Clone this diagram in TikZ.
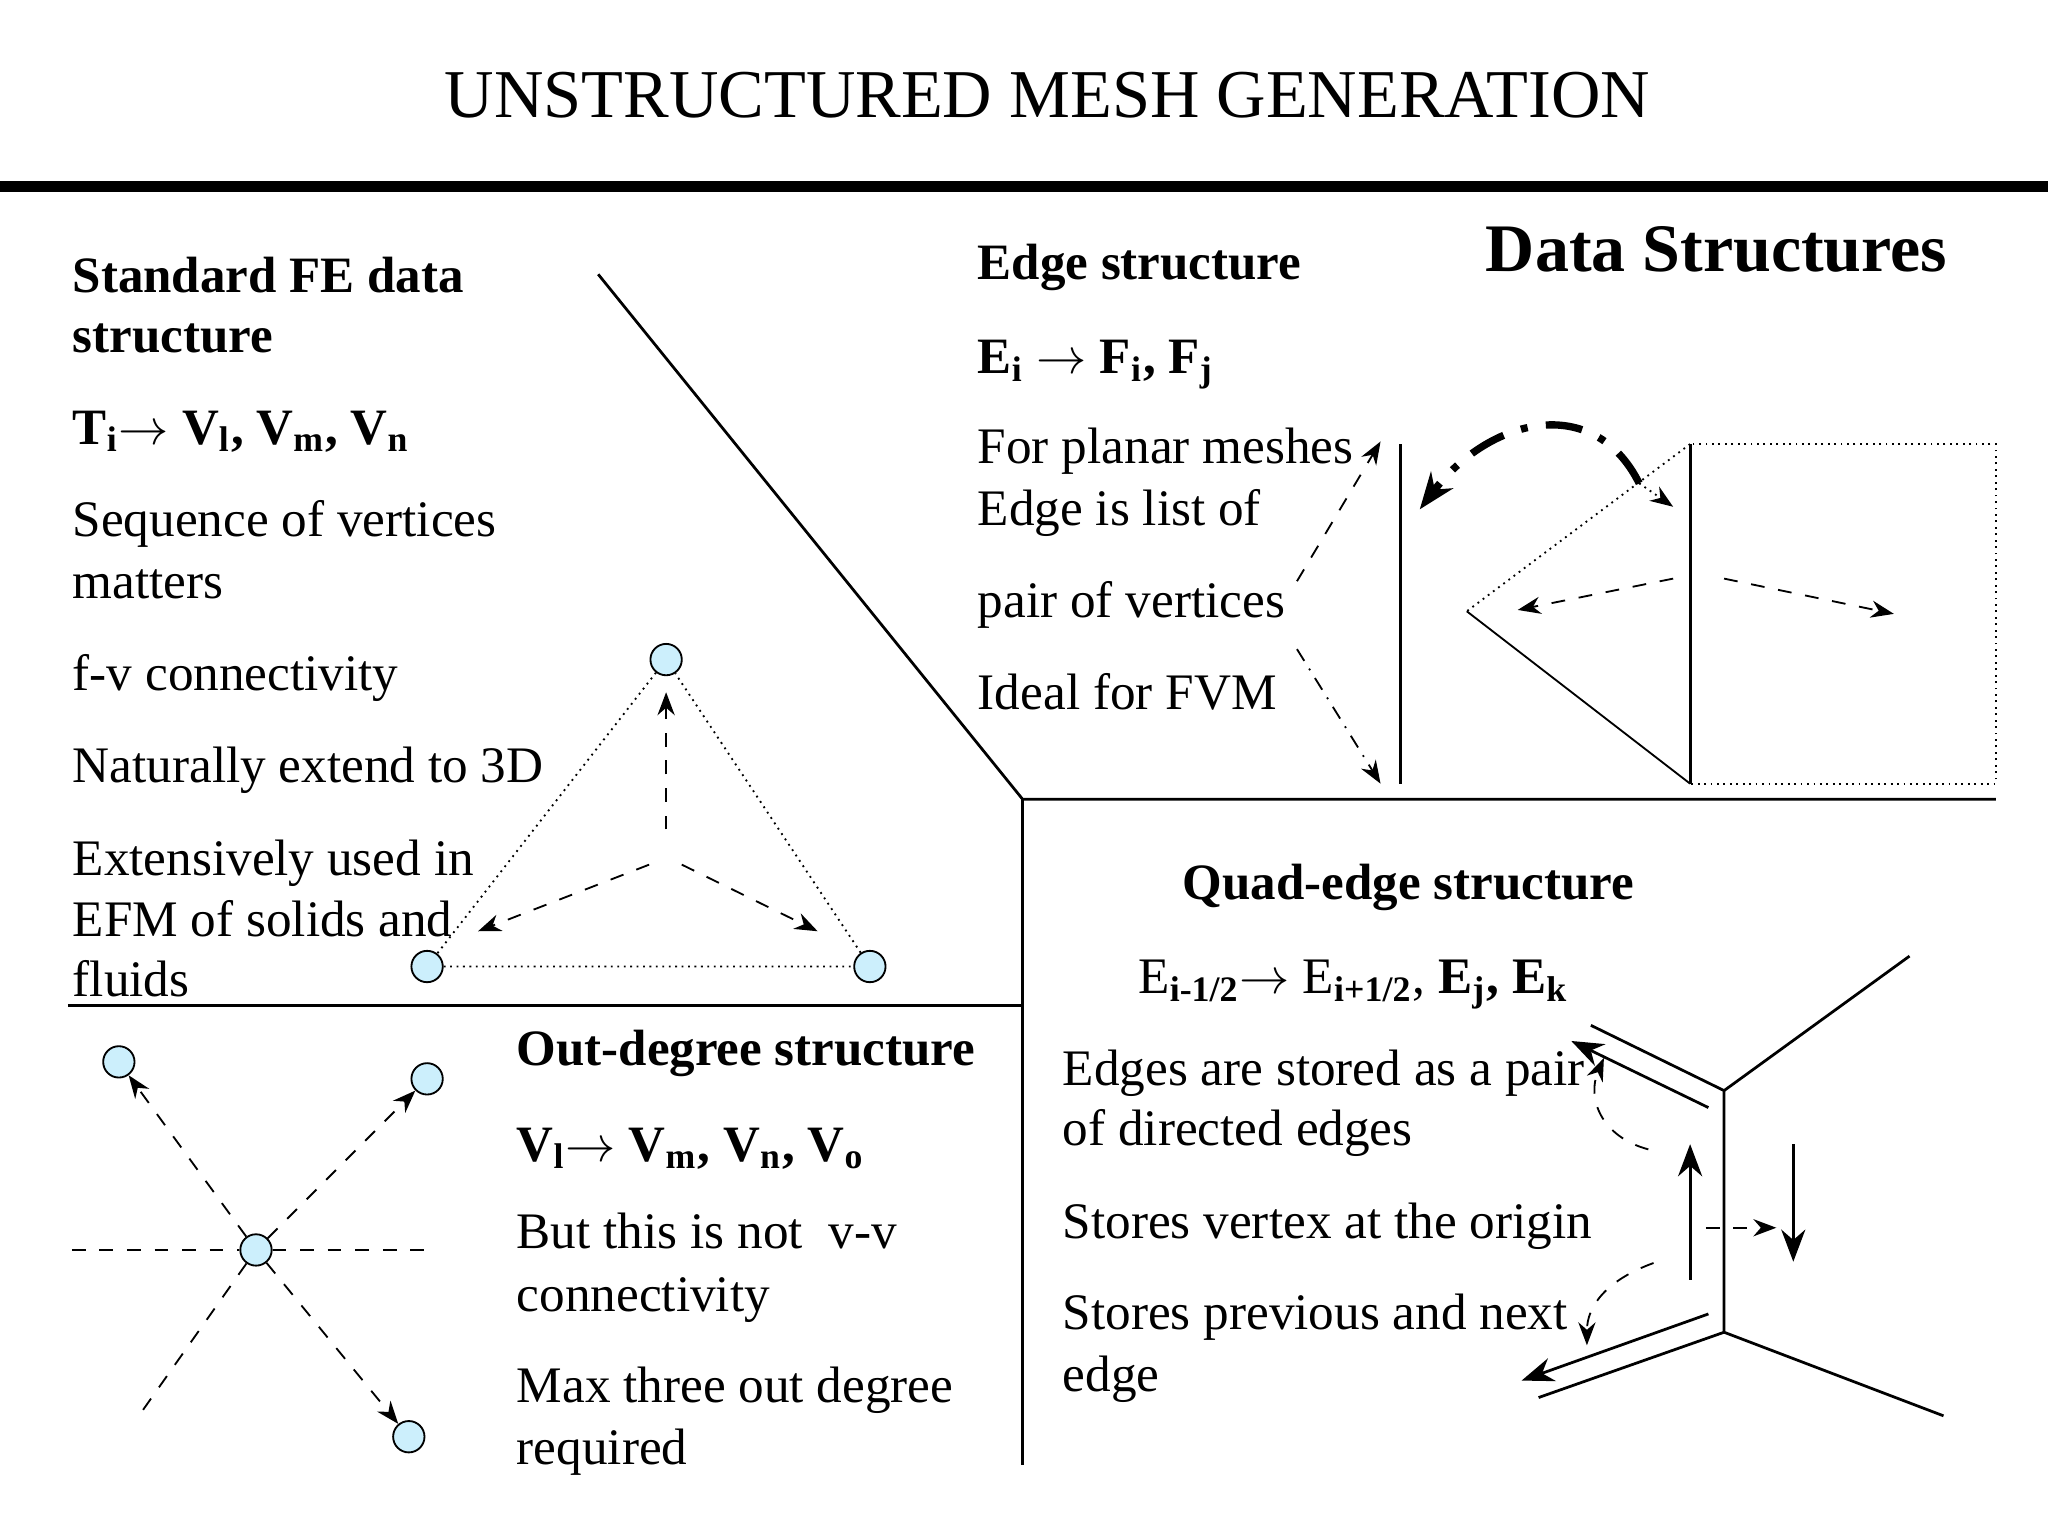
\documentclass[tikz,border=0pt]{standalone}
\usepackage{fontspec}
\setmainfont{Liberation Serif}
\usetikzlibrary{arrows.meta}
\begin{document}
\begin{tikzpicture}[x=0.01cm,y=-0.01cm,
 txt/.style={anchor=base west,inner sep=0,font=\fontsize{11.15}{13}\selectfont},
 btxt/.style={txt,font=\fontsize{11.1}{13}\selectfont\bfseries},
 vtx/.style={circle,draw,fill=cyan!20!white,minimum size=0.24cm,inner sep=0},
 da/.style={dashed,-{Stealth[length=5pt]}},
 ln/.style={line width=0.6pt}]
\useasboundingbox (0,0) rectangle (1568,1176);
\node[anchor=base,font=\fontsize{14.9}{18}\selectfont] (title) at (802,90) {UNSTRUCTURED MESH GENERATION};
\draw[line width=2.4pt] (0,143) coordinate (h1) -- (1568,143) coordinate (h2);
\coordinate (c) at (783,612);
\draw[ln] (458,210) -- (c) -- (1528,612);
\draw[ln] (c) -- (783,1122);
\draw[ln] (52,770) -- (783,770);
% left text
\node[btxt] (a1) at (55,224) {Standard FE data};
\node[btxt] (a2) at (55,270) {structure};
\node[btxt] (a3) at (55,340) {T\textsubscript{i}$\rightarrow$ V\textsubscript{l}, V\textsubscript{m}, V\textsubscript{n}};
\node[txt] (a4) at (55,411) {Sequence of vertices};
\node[txt] (a5) at (55,458) {matters};
\node[txt] (a6) at (55,529) {f-v connectivity};
\node[txt] (a7) at (55,599) {Naturally extend to 3D};
\node[txt] (a8) at (55,670) {Extensively used in};
\node[txt] (a9) at (55,717) {EFM of solids and};
\node[txt] (a10) at (55,763) {fluids};
% triangle
\node[vtx] (t1) at (510,505) {};
\node[vtx] (t2) at (327,740) {};
\node[vtx] (t3) at (666,740) {};
\draw[densely dotted] (t1) -- (t2) -- (t3) -- (t1);
\coordinate (p1) at (510,635); \coordinate (q1) at (510,530);
\coordinate (p2) at (497,662); \coordinate (q2) at (366,713);
\coordinate (p3) at (522,662); \coordinate (q3) at (626,713);
\draw[da] (p1) -- (q1); \draw[da] (p2) -- (q2); \draw[da] (p3) -- (q3);
% out-degree
\node[vtx] (o) at (196,957) {};
\node[vtx] (o1) at (91,813) {};
\node[vtx] (o2) at (327,826) {};
\node[vtx] (o3) at (313,1100) {};
\coordinate (l1) at (55,957); \coordinate (l2) at (335,957); \coordinate (l3) at (107,1083);
\draw[dashed] (l1) -- (o) -- (l2);
\draw[dashed] (o) -- (l3);
\draw[da] (o) -- (o1); \draw[da] (o) -- (o2); \draw[da] (o) -- (o3);
\node[btxt] (b1) at (395,816) {Out-degree structure};
\node[btxt] (b2) at (395,889) {V\textsubscript{l}$\rightarrow$ V\textsubscript{m}, V\textsubscript{n}, V\textsubscript{o}};
\node[txt] (b3) at (395,956) {But this is not \ v-v};
\node[txt] (b4) at (395,1004) {connectivity};
\node[txt] (b5) at (395,1074) {Max three out degree};
\node[txt] (b6) at (395,1121) {required};
% edge structure
\node[btxt] (e1) at (748,214) {Edge structure};
\node[anchor=base west,inner sep=0,font=\fontsize{14.8}{18}\selectfont\bfseries] (ds) at (1137,208) {Data Structures};
\node[btxt] (e2) at (748,286) {E\textsubscript{i} $\rightarrow$ F\textsubscript{i}, F\textsubscript{j}};
\node[txt] (e3) at (748,355) {For planar meshes};
\node[txt] (e4) at (748,402) {Edge is list of};
\node[txt] (e5) at (748,473) {pair of vertices};
\node[txt] (e6) at (748,543) {Ideal for FVM};
\draw[ln] (1072,340) -- (1072,600);
\draw[ln] (1294,340) -- (1294,600);
\draw[densely dotted] (1294,340) rectangle (1528,600);
\coordinate (tip) at (1123,468);
\draw[densely dotted] (1294,340) -- (tip);
\draw[thin] (tip) -- (1294,600);
\coordinate (r1) at (1281,443); \coordinate (r2) at (1162,467);
\coordinate (r3) at (1320,443); \coordinate (r4) at (1450,470);
\draw[da] (r1) -- (r2); \draw[da] (r3) -- (r4);
\coordinate (s1) at (993,445); \coordinate (s2) at (1057,338);
\coordinate (s3) at (993,497); \coordinate (s4) at (1057,600);
\draw[da] (s1) -- (s2);
\draw[dash dot,-{Stealth[length=5pt]}] (s3) -- (s4);
\coordinate (k1) at (1255,370); \coordinate (k2) at (1087,390); \coordinate (k3) at (1281,388);
\draw[line width=1.6pt,dash pattern=on 8pt off 4pt on 1.5pt off 4pt,-{Stealth[length=8pt]}] (k1) .. controls (1220,300) and (1140,320) .. (k2);
\draw[densely dotted,-{Stealth[length=5pt]}] (k1) -- (k3);
% quad-edge
\node[btxt] (q1t) at (905,689) {Quad-edge structure};
\node[txt] (q2t) at (871,761) {E\textsubscript{\textbf{i-1/2}}$\rightarrow$ E\textsubscript{\textbf{i+1/2}}, \textbf{E\textsubscript{j}, E\textsubscript{k}}};
\node[txt] (q3t) at (813,831) {Edges are stored as a pair};
\node[txt] (q4t) at (813,877) {of directed edges};
\node[txt] (q5t) at (813,948) {Stores vertex at the origin};
\node[txt] (q6t) at (813,1018) {Stores previous and next};
\node[txt] (q7t) at (813,1065) {edge};
\coordinate (u) at (1320,835); \coordinate (w) at (1320,1020);
\draw[ln] (1462,732) -- (u) -- (w) -- (1488,1084);
\draw[ln] (1218,785) -- (u);
\draw[ln,-{Stealth[length=7pt]}] (1308,848) -- (1203,797);
\draw[ln,-{Stealth[length=7pt]}] (1308,1006) -- (1165,1057);
\draw[ln] (w) -- (1178,1070);
\draw[ln,-{Stealth[length=7pt]}] (1294,980) -- (1294,876);
\draw[ln,-{Stealth[length=7pt]}] (1373,876) -- (1373,966);
\coordinate (m1) at (1306,940); \coordinate (m2) at (1360,940);
\draw[da] (m1) -- (m2);
\coordinate (n1) at (1262,880); \coordinate (n2) at (1228,810);
\coordinate (n3) at (1266,967); \coordinate (n4) at (1215,1030);
\draw[da] (n1) .. controls (1225,870) and (1215,840) .. (n2);
\draw[da] (n3) .. controls (1230,980) and (1215,1000) .. (n4);
\end{tikzpicture}
\end{document}
